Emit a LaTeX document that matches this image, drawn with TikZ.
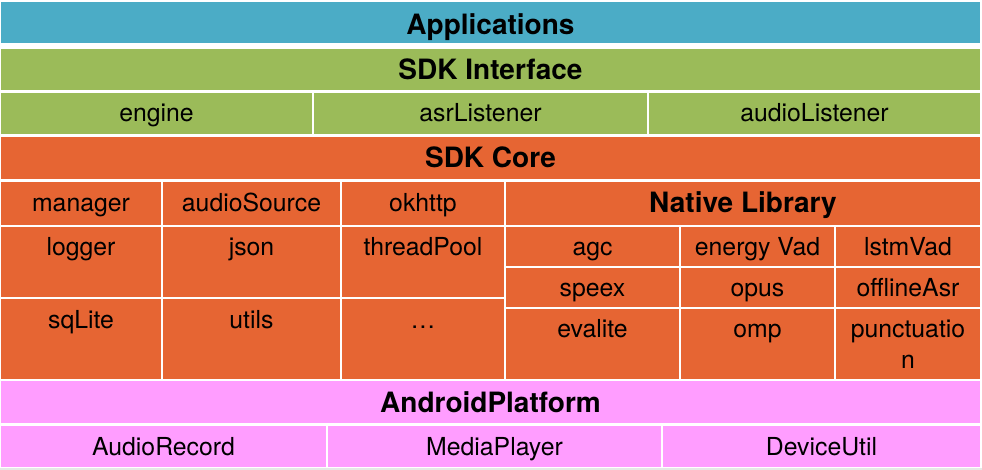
\documentclass[tikz,border=0pt]{standalone}
\usepackage{fontspec}
\setmainfont{TeX Gyre Heros}
\definecolor{appblue}{HTML}{4BACC6}
\definecolor{sdkgreen}{HTML}{9BBB59}
\definecolor{coreorange}{HTML}{E66533}
\definecolor{platpink}{HTML}{FF9DFF}
\definecolor{edgegray}{HTML}{E6E8E6}
\newcommand{\mycell}[9]{%
  \fill[#6] (#2,#3) rectangle (#4,#5);
  \node[#7] (#1) at ({(#2+#4)/2},{#3+#8}) {#9};}
\begin{document}
\begin{tikzpicture}[x=1pt,y=-1pt,
  lbl/.style={anchor=base,inner sep=0pt,font=\fontsize{24.8}{31}\selectfont},
  ttl/.style={anchor=base,inner sep=0pt,font=\bfseries\fontsize{28}{34}\selectfont}]
\fill[white] (0,0) rectangle (982,470);
\useasboundingbox (0,0) rectangle (982,470);
\fill[edgegray] (0,467.5) rectangle (982,470);
% Applications
\mycell{apps}{1}{2}{980}{43}{appblue}{ttl}{33}{Applications}
% SDK Interface
\mycell{sdki}{1}{49}{980}{90}{sdkgreen}{ttl}{31}{SDK Interface}
\mycell{engine}{1}{93}{312}{134}{sdkgreen}{lbl}{29}{engine}
\mycell{asrl}{314}{93}{647}{134}{sdkgreen}{lbl}{29}{asrListener}
\mycell{audl}{649}{93}{980}{134}{sdkgreen}{lbl}{29}{audioListener}
% SDK Core
\mycell{core}{1}{137}{980}{179}{coreorange}{ttl}{31}{SDK Core}
\mycell{manager}{1}{182}{161}{225}{coreorange}{lbl}{30}{manager}
\mycell{audsrc}{163}{182}{340}{225}{coreorange}{lbl}{30}{audioSource}
\mycell{okhttp}{342}{182}{504}{225}{coreorange}{lbl}{30}{okhttp}
\mycell{logger}{1}{227}{161}{297}{coreorange}{lbl}{28}{logger}
\mycell{json}{163}{227}{340}{297}{coreorange}{lbl}{28}{json}
\mycell{tpool}{342}{227}{504}{297}{coreorange}{lbl}{28}{threadPool}
\mycell{sqlite}{1}{299}{161}{379}{coreorange}{lbl}{29}{sqLite}
\mycell{utils}{163}{299}{340}{379}{coreorange}{lbl}{29}{utils}
\mycell{more}{342}{299}{504}{379}{coreorange}{lbl}{29}{\dots}
% Native Library
\mycell{native}{506}{182}{980}{225}{coreorange}{ttl}{31}{Native Library}
\mycell{agc}{506}{227}{679}{266}{coreorange}{lbl}{28}{agc}
\mycell{evad}{681}{227}{834}{266}{coreorange}{lbl}{28}{energy Vad}
\mycell{lvad}{836}{227}{980}{266}{coreorange}{lbl}{28}{lstmVad}
\mycell{speex}{506}{268}{679}{307}{coreorange}{lbl}{28}{speex}
\mycell{opus}{681}{268}{834}{307}{coreorange}{lbl}{28}{opus}
\mycell{offasr}{836}{268}{980}{307}{coreorange}{lbl}{28}{offlineAsr}
\mycell{evalite}{506}{309}{679}{379}{coreorange}{lbl}{28}{evalite}
\mycell{omp}{681}{309}{834}{379}{coreorange}{lbl}{28}{omp}
\mycell{punct}{836}{309}{980}{379}{coreorange}{lbl,align=center}{59}{punctuatio\\n}
% Android Platform
\mycell{android}{1}{381}{980}{423}{platpink}{ttl}{31}{AndroidPlatform}
\mycell{arec}{1}{426}{326}{467}{platpink}{lbl}{29}{AudioRecord}
\mycell{mplay}{328}{426}{661}{467}{platpink}{lbl}{29}{MediaPlayer}
\mycell{dutil}{663}{426}{980}{467}{platpink}{lbl}{29}{DeviceUtil}
\end{tikzpicture}
\end{document}
